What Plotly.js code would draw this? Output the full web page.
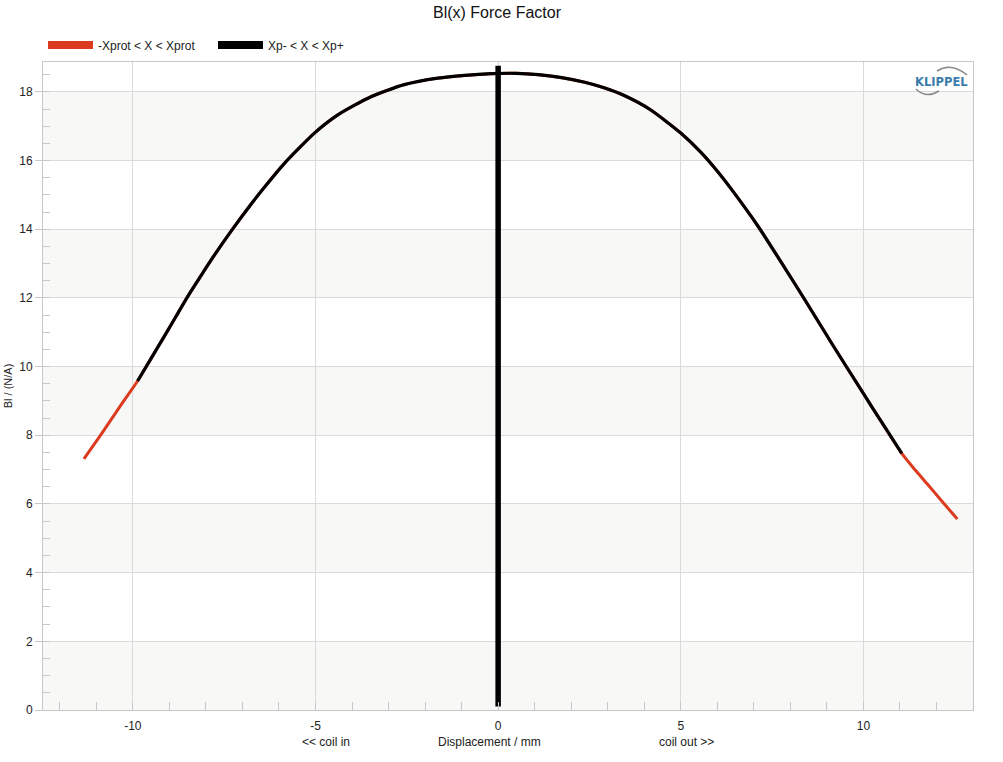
<!DOCTYPE html>
<html>
<head>
<meta charset="utf-8">
<script src="https://cdn.plot.ly/plotly-3.0.1.min.js"></script>
<style>html,body{margin:0;padding:0;background:#fff}#chart{width:1003px;height:762px}</style>
</head>
<body>
<div id="chart"></div>
<script>
// Black curve: -Xp < X < Xp+
const blackX = [-9.87, -9.5, -9.14, -8.82, -8.5, -8.14, -7.86, -7.32, -6.77, -6.4, -5.85, -5.03, -4.39, -3.48, -2.57, -1.65, -0.92, -0.19, 0.5, 1.1, 1.7, 2.37, 2.9, 3.44, 4.17, 5.0, 5.54, 6.04, 6.39, 7.12, 7.85, 8.4, 9.13, 10.05, 10.5, 11.05];
const blackY = [9.58, 10.24, 10.88, 11.46, 12.04, 12.64, 13.1, 13.93, 14.72, 15.22, 15.92, 16.8, 17.33, 17.86, 18.21, 18.4, 18.48, 18.53, 18.54, 18.5, 18.42, 18.28, 18.12, 17.9, 17.48, 16.8, 16.25, 15.64, 15.16, 14.08, 12.87, 11.94, 10.68, 9.13, 8.38, 7.47];
// Red curve extensions: -Xprot < X < Xprot
const redLeftX = [-11.34, -10.95, -10.6, -10.25];
const redLeftY = [7.31, 7.9, 8.45, 9.0];
const redRightX = [11.36, 11.75, 12.15, 12.57];
const redRightY = [7.06, 6.58, 6.08, 5.56];
const redX = redLeftX.concat(blackX, redRightX);
const redY = redLeftY.concat(blackY, redRightY);
// Rest position marker at X = 0
const restX = [0, 0];
const restY = [0.1, 18.76];

const seriesNames = ['-Xprot < X < Xprot', 'Xp- < X < Xp+'];
const bandStarts = [0, 4, 8, 12, 16];
const xTickVals = [-10, -5, 0, 5, 10];
const xTickText = ['-10', '-5', '0', '5', '10'];
const yTickVals = [0, 2, 4, 6, 8, 10, 12, 14, 16, 18];

const RED = '#dc3a1f';
const FONT = 'Liberation Sans, Arial, sans-serif';

const traces = [
  {x: redX, y: redY, mode: 'lines', line: {color: RED, width: 3, shape: 'spline', smoothing: 0.6}, showlegend: false, hoverinfo: 'skip'},
  {x: blackX, y: blackY, mode: 'lines', line: {color: '#000', width: 3.2, shape: 'spline', smoothing: 0.6}, showlegend: false, hoverinfo: 'skip'},
  {x: restX, y: restY, mode: 'lines', line: {color: '#000', width: 5.5}, showlegend: false, hoverinfo: 'skip'},
  {x: [null], y: [null], mode: 'lines', name: seriesNames[0], line: {color: RED, width: 8}},
  {x: [null], y: [null], mode: 'lines', name: seriesNames[1], line: {color: '#000', width: 8}}
];

const shapes = bandStarts.map(b => ({
  type: 'rect', xref: 'paper', yref: 'y', x0: 0, x1: 1, y0: b, y1: b + 2,
  fillcolor: '#f8f8f7', line: {width: 0}, layer: 'below'
}));
// KLIPPEL logo arcs
const px = v => (v - 43) / 930, py = v => (710 - v) / 648;
shapes.push({type: 'path', xref: 'paper', yref: 'paper',
  path: `M${px(937)},${py(71)} Q${px(951)},${py(62)} ${px(967)},${py(75)}`,
  line: {color: '#8a8a8a', width: 1.5}});
shapes.push({type: 'path', xref: 'paper', yref: 'paper',
  path: `M${px(916)},${py(89)} Q${px(926)},${py(99)} ${px(939)},${py(91)}`,
  line: {color: '#8a8a8a', width: 1.5}});

const annotations = [
  {text: 'Displacement / mm', xref: 'x', yref: 'paper', x: -0.25, y: (710 - 742) / 648, showarrow: false, xanchor: 'center', yanchor: 'middle', font: {size: 12, color: '#222'}},
  {text: '<< coil in', xref: 'x', yref: 'paper', x: -4.72, y: (710 - 742) / 648, showarrow: false, xanchor: 'center', yanchor: 'middle', font: {size: 12, color: '#222'}},
  {text: 'coil out >>', xref: 'x', yref: 'paper', x: 5.16, y: (710 - 742) / 648, showarrow: false, xanchor: 'center', yanchor: 'middle', font: {size: 12, color: '#222'}},
  {text: '<b>KLIPPEL</b>', xref: 'paper', yref: 'paper', x: px(941), y: py(82), showarrow: false, xanchor: 'center', yanchor: 'middle', font: {size: 11.5, color: '#3b7cab', family: 'DejaVu Sans, sans-serif'}}
];

const layout = {
  width: 1003, height: 762,
  margin: {l: 43, r: 30, t: 62, b: 52},
  paper_bgcolor: '#fff', plot_bgcolor: '#fff',
  font: {family: FONT, size: 12, color: '#222'},
  title: {text: 'Bl(x) Force Factor', x: 497 / 1003, xanchor: 'center', y: 1 - 12 / 762, yanchor: 'middle', font: {size: 16, color: '#111'}},
  showlegend: true,
  legend: {orientation: 'h', x: 0, xanchor: 'left', y: py(45), yanchor: 'middle', font: {size: 12, color: '#222'}, itemwidth: 45, entrywidth: 110, entrywidthmode: 'pixels', bgcolor: 'rgba(0,0,0,0)'},
  xaxis: {
    range: [-12.46, 13.0], tickvals: xTickVals, ticktext: xTickText, ticks: '', showgrid: true, gridcolor: '#dadada', gridwidth: 1,
    zeroline: false, showline: true, linecolor: '#c8c8c8', linewidth: 1, mirror: true,
    ticklabelstandoff: 5, tickfont: {size: 12, color: '#222'},
    minor: {dtick: 1, tick0: 0, ticks: 'inside', ticklen: 8, tickcolor: '#c8c8c8', tickwidth: 1, showgrid: false}
  },
  yaxis: {
    range: [0, 18.87], tickvals: yTickVals, ticks: 'outside', ticklen: 7, tickcolor: '#c8c8c8', showgrid: true, gridcolor: '#dadada',
    zeroline: false, showline: true, linecolor: '#c8c8c8', linewidth: 1, mirror: true,
    tickfont: {size: 12, color: '#222'},
    title: {text: 'Bl / (N/A)', font: {size: 11, color: '#222'}, standoff: 4},
    minor: {dtick: 0.5, tick0: 0, ticks: 'inside', ticklen: 7, tickcolor: '#c8c8c8', tickwidth: 1, showgrid: false}
  },
  shapes: shapes,
  annotations: annotations
};

Plotly.newPlot('chart', traces, layout, {displayModeBar: false, staticPlot: true});
</script>
</body>
</html>
